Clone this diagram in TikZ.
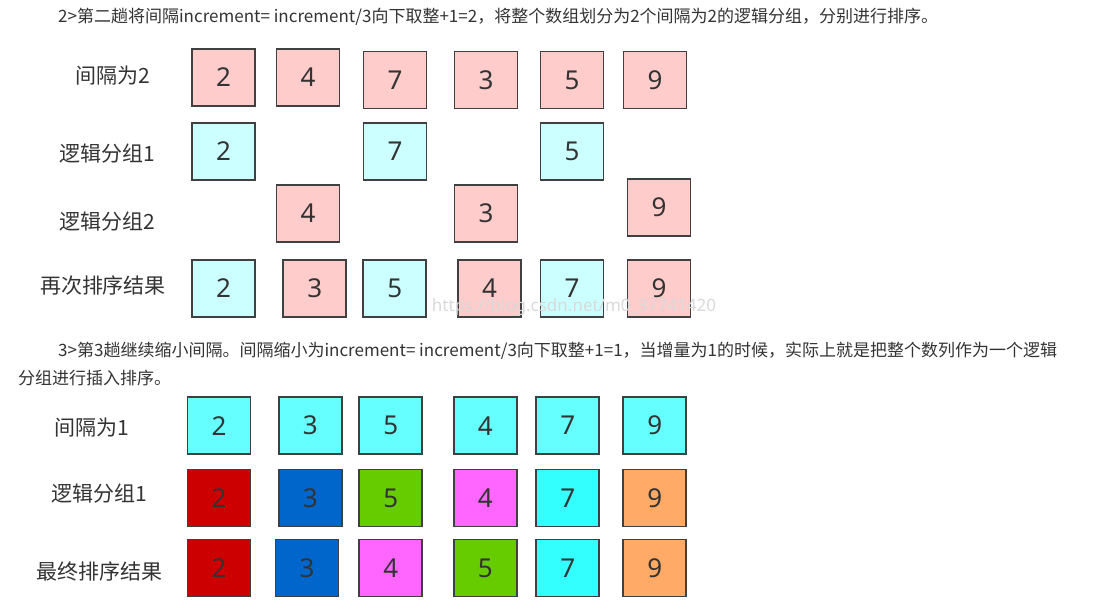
\documentclass[tikz,border=0pt]{standalone}
\usepackage{fontspec}
\usepackage{xcolor}
\usetikzlibrary{positioning}
\setmainfont{Noto Sans}
\newfontfamily\cjk{Noto Sans CJK SC}

\definecolor{cellline}{HTML}{404040}
\definecolor{digit}{HTML}{333333}
\definecolor{labeltext}{HTML}{333333}
\definecolor{notetext}{HTML}{333333}
\definecolor{pinkbox}{HTML}{FFCCCC}
\definecolor{paleblue}{HTML}{CCFFFF}
\definecolor{cyanbox}{HTML}{66FFFF}
\definecolor{redbox}{HTML}{CC0000}
\definecolor{bluebox}{HTML}{0066CC}
\definecolor{greenbox}{HTML}{66CC00}
\definecolor{magbox}{HTML}{FF66FF}
\definecolor{aquabox}{HTML}{33FFFF}
\definecolor{orangebox}{HTML}{FFAA66}

\tikzset{
	cell/.style={draw=cellline, line width=1.6pt, minimum width=63pt, minimum height=57pt,
		inner sep=0pt, font=\fontsize{26}{26}\selectfont, text=digit},
	rowlabel/.style={inner sep=0pt, font=\cjk\fontsize{21}{21}\selectfont, text=labeltext},
	note/.style={anchor=west, inner sep=0pt, font=\cjk\fontsize{17}{17}\selectfont, text=notetext},
}

\begin{document}
\begin{tikzpicture}[x=1pt, y=-1pt]
	\useasboundingbox[fill=white] (0,0) rectangle (1093,609);

	% step 2 text
	\node[note] (n2) at (58,17) {2>第二趟将间隔increment= increment/3向下取整+1=2，将整个数组划分为2个间隔为2的逻辑分组，分别进行排序。};

	% gap 2
	\node[rowlabel] (l1) at (112.5,76) {间隔为2};
	\node[cell, fill=pinkbox] (a1) at (223.5,77.5) {2};
	\node[cell, fill=pinkbox] (a2) at (308,77.5) {4};
	\node[cell, fill=pinkbox] (a3) at (395,80) {7};
	\node[cell, fill=pinkbox] (a4) at (486,80) {3};
	\node[cell, fill=pinkbox] (a5) at (572,80) {5};
	\node[cell, fill=pinkbox] (a6) at (655,80) {9};

	\node[rowlabel] (l2) at (107.5,154) {逻辑分组1};
	\node[cell, fill=paleblue] (b1) at (223.5,151.5) {2};
	\node[cell, fill=paleblue] (b3) at (395,151.5) {7};
	\node[cell, fill=paleblue] (b5) at (572,151.5) {5};

	\node[rowlabel] (l3) at (107.5,222) {逻辑分组2};
	\node[cell, fill=pinkbox] (c2) at (308,213.5) {4};
	\node[cell, fill=pinkbox] (c4) at (486,213.5) {3};
	\node[cell, fill=pinkbox] (c6) at (659,207.5) {9};

	\node[rowlabel] (l4) at (103,286) {再次排序结果};
	\node[cell, fill=paleblue] (d1) at (223.5,288.5) {2};
	\node[cell, fill=pinkbox] (d2) at (314.7,288.5) {3};
	\node[cell, fill=paleblue] (d3) at (394.7,288.5) {5};
	\node[cell, fill=pinkbox] (d4) at (489.5,288.5) {4};
	\node[cell, fill=paleblue] (d5) at (572,288.5) {7};
	\node[cell, fill=pinkbox] (d6) at (659,288.5) {9};

	\node[inner sep=0pt, text=black!15, font=\fontsize{17}{17}\selectfont] (wm) at (574,307) {https://blog.csdn.net/m0\_37741420};

	% step 3 text
	\node[note] (n3) at (58,351) {3>第3趟继续缩小间隔。间隔缩小为increment= increment/3向下取整+1=1，当增量为1的时候，实际上就是把整个数列作为一个逻辑};
	\node[note] (n3b) at (18,378) {分组进行插入排序。};

	% gap 1
	\node[rowlabel] (l5) at (91.5,428) {间隔为1};
	\node[cell, fill=cyanbox] (e1) at (219,425.7) {2};
	\node[cell, fill=cyanbox] (e2) at (310.3,425.7) {3};
	\node[cell, fill=cyanbox] (e3) at (390.7,425.7) {5};
	\node[cell, fill=cyanbox] (e4) at (485.3,425.7) {4};
	\node[cell, fill=cyanbox] (e5) at (567.7,425.7) {7};
	\node[cell, fill=cyanbox] (e6) at (654.7,425.7) {9};

	\node[rowlabel] (l6) at (99.5,494) {逻辑分组1};
	\node[cell, fill=redbox] (f1) at (219,498) {2};
	\node[cell, fill=bluebox] (f2) at (310.3,498) {3};
	\node[cell, fill=greenbox] (f3) at (390.7,498) {5};
	\node[cell, fill=magbox] (f4) at (485.3,498) {4};
	\node[cell, fill=aquabox] (f5) at (567.7,498) {7};
	\node[cell, fill=orangebox] (f6) at (654.7,498) {9};

	\node[rowlabel] (l7) at (99.5,571) {最终排序结果};
	\node[cell, fill=redbox] (g1) at (219,568) {2};
	\node[cell, fill=bluebox] (g2) at (307,568) {3};
	\node[cell, fill=magbox] (g3) at (390.7,568) {4};
	\node[cell, fill=greenbox] (g4) at (485.3,568) {5};
	\node[cell, fill=aquabox] (g5) at (567.7,568) {7};
	\node[cell, fill=orangebox] (g6) at (654.7,568) {9};
\end{tikzpicture}
\end{document}
